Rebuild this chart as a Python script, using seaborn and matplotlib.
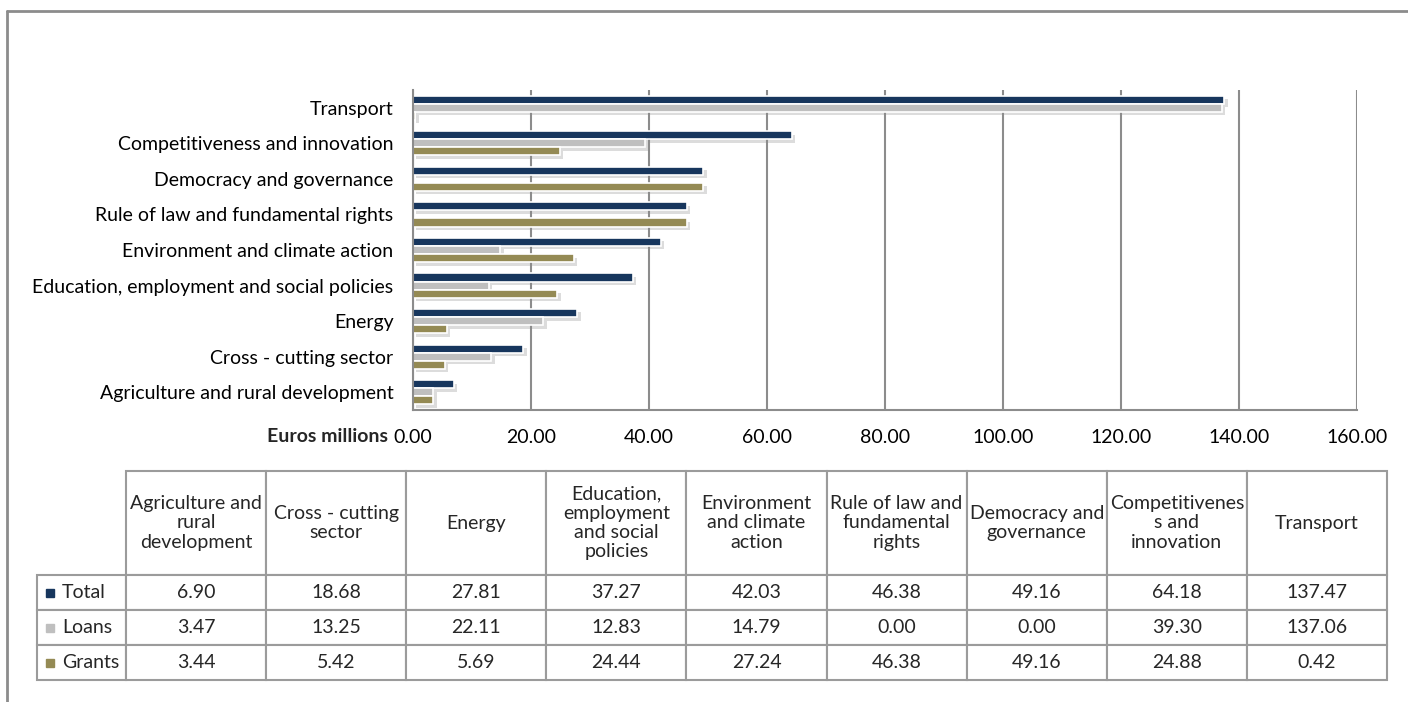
import matplotlib
matplotlib.use("Agg")
import matplotlib.pyplot as plt
import matplotlib.patheffects as pe
from matplotlib.patches import Rectangle
from matplotlib.lines import Line2D
import numpy as np
import pandas as pd
import seaborn as sns

# data (table order, bottom of chart to top)
sectors = ["Agriculture and rural development", "Cross - cutting sector", "Energy",
           "Education, employment and social policies", "Environment and climate action",
           "Rule of law and fundamental rights", "Democracy and governance",
           "Competitiveness and innovation", "Transport"]
headers = ["Agriculture and\nrural\ndevelopment", "Cross - cutting\nsector", "Energy",
           "Education,\nemployment\nand social\npolicies", "Environment\nand climate\naction",
           "Rule of law and\nfundamental\nrights", "Democracy and\ngovernance",
           "Competitivenes\ns and\ninnovation", "Transport"]
total = [6.90, 18.68, 27.81, 37.27, 42.03, 46.38, 49.16, 64.18, 137.47]
loans = [3.47, 13.25, 22.11, 12.83, 14.79, 0.00, 0.00, 39.30, 137.06]
grants = [3.44, 5.42, 5.69, 24.44, 27.24, 46.38, 49.16, 24.88, 0.42]
series = ["Total", "Loans", "Grants"]
colors = {"Total": "#17365d", "Loans": "#bfbfbf", "Grants": "#948a54"}
xticks = [0, 20, 40, 60, 80, 100, 120, 140, 160]

W, H = 1408, 702
FONT = "Lato"
FS = 14
GRID = "#8c8c8c"

sns.set_theme(style="white")
plt.rcParams["font.family"] = [FONT, "DejaVu Sans"]

df = pd.DataFrame({
    "sector": np.repeat(sectors, 3),
    "series": series * len(sectors),
    "value": np.column_stack([total, loans, grants]).ravel(),
})

fig = plt.figure(figsize=(W / 100, H / 100), dpi=100)
fig.patch.set_facecolor("white")

def fx(px):
    return px / W

def fy(py):
    return 1 - py / H

# outer frame (cropped at right/bottom)
fig.add_artist(Line2D([fx(7), fx(7)], [fy(11), 0], color=GRID, lw=2, transform=fig.transFigure))
fig.add_artist(Line2D([fx(7), 1], [fy(11), fy(11)], color=GRID, lw=2, transform=fig.transFigure))

ax = fig.add_axes([fx(413), fy(410), fx(1357 - 413), (410 - 90) / H])
sns.barplot(data=df, x="value", y="sector", hue="series", order=sectors[::-1],
            hue_order=series, palette=colors, width=0.68, saturation=1,
            edgecolor="white", linewidth=1.2, legend=False, ax=ax)

for p in ax.patches:
    p.set_path_effects([pe.SimplePatchShadow(offset=(2.5, -2.5), shadow_rgbFace=(0.55, 0.55, 0.55), alpha=0.3),
                        pe.Normal()])

ax.set_xlim(0, 160)
ax.set_xticks(xticks)
ax.set_xticklabels([f"{v:.2f}" for v in xticks])
ax.xaxis.grid(True, color=GRID, lw=1.5)
ax.set_axisbelow(True)
ax.set_xlabel("")
ax.set_ylabel("")
ax.tick_params(axis="both", length=0, labelsize=FS, colors="black")
ax.tick_params(axis="x", pad=14)
ax.tick_params(axis="y", pad=14)
for s in ["top", "right"]:
    ax.spines[s].set_visible(False)
for s in ["left", "bottom"]:
    ax.spines[s].set_color(GRID)
    ax.spines[s].set_linewidth(1.5)

ax.annotate("Euros millions", xy=(0, 0), xycoords="axes fraction", xytext=(-25, -27),
            textcoords="offset pixels", ha="right", va="center", fontsize=FS, fontweight="bold")

# data table (first column holds the series names)
TAB_L, TAB_R, TAB_T, TAB_B = 37, 1387, 471, 680
HDR_H, ROW_H, LBL_W = 104, 35, 89
col_w = (TAB_R - TAB_L - LBL_W) / len(sectors)

tax = fig.add_axes([fx(TAB_L), fy(TAB_B), fx(TAB_R - TAB_L), (TAB_B - TAB_T) / H])
tax.axis("off")
cells = [[name] + [f"{v:.2f}" for v in row] for name, row in zip(series, (total, loans, grants))]
tab = tax.table(cellText=cells, colLabels=[""] + headers,
                colWidths=[LBL_W] + [col_w] * len(sectors),
                cellLoc="center", bbox=[0, 0, 1, 1])
tab.auto_set_font_size(False)
tab.set_fontsize(FS)
for (r, c), cell in tab.get_celld().items():
    cell.set_edgecolor("#9b9b9b")
    cell.set_linewidth(1.5)
    cell.set_height(HDR_H if r == 0 else ROW_H)
    txt = cell.get_text()
    txt.set_fontfamily([FONT, "DejaVu Sans"])
    if r == 0:
        txt.set_linespacing(1.15)
    if c == 0:
        if r == 0:
            cell.visible_edges = "open"
        else:
            txt.set_horizontalalignment("left")
            cell._loc = "left"
            cell.PAD = (62 - TAB_L) / LBL_W

for i, name in enumerate(series):
    cy = TAB_T + HDR_H + ROW_H * (i + 0.5)
    fig.add_artist(Rectangle((fx(46), fy(cy + 4)), fx(8), 8 / H, color=colors[name],
                             transform=fig.transFigure))

fig.savefig("out.png", dpi=100, facecolor="white")
